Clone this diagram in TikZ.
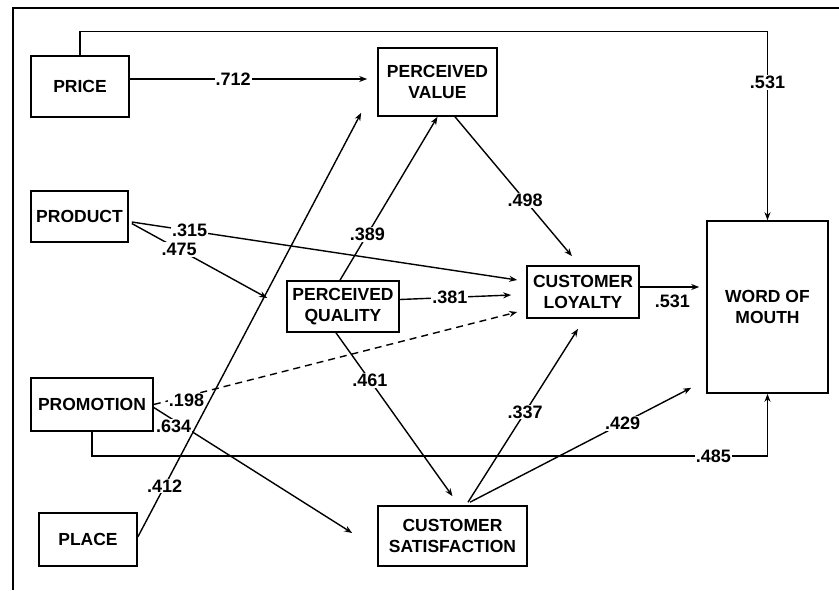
\documentclass[tikz,border=0pt]{standalone}
\usepackage{fontspec}
\setmainfont{Liberation Sans}
\usetikzlibrary{arrows.meta}
\tikzset{
  box/.style={draw, line width=1.6pt, inner sep=0pt, align=center,
    font=\fontsize{17.5}{21}\selectfont\bfseries},
  arr/.style={line width=1.4pt, -{Stealth[length=8pt,width=6pt]}},
  lab/.style={fill=white, inner sep=1pt, font=\fontsize{18}{20}\selectfont\bfseries},
  frame/.style={line width=1.6pt}
}
\begin{document}
\begin{tikzpicture}[x=1pt,y=-1pt]
\useasboundingbox (0,0) rectangle (839,590);
\coordinate (ftl) at (13,8);
\coordinate (ftr) at (839,8);
\coordinate (fbl) at (13,590);
\draw[frame] (ftr) -- (ftl) -- (fbl);

\node[box, minimum width=98, minimum height=61] (price) at (80,86.5) {PRICE};
\node[box, minimum width=119, minimum height=68] (pv) at (437.5,82) {PERCEIVED\\VALUE};
\node[box, minimum width=97, minimum height=51] (product) at (79.5,216.5) {PRODUCT};
\node[box, minimum width=112, minimum height=51] (pq) at (343,306.5) {PERCEIVED\\QUALITY};
\node[box, minimum width=112, minimum height=52] (cl) at (583,292) {CUSTOMER\\LOYALTY};
\node[box, minimum width=121, minimum height=172] (wom) at (767.5,307) {WORD OF\\MOUTH};
\node[box, minimum width=122, minimum height=53] (promo) at (92,404.5) {PROMOTION};
\node[box, minimum width=98, minimum height=53] (place) at (88,539.5) {PLACE};
\node[box, minimum width=149, minimum height=60] (cs) at (452.5,536) {CUSTOMER\\SATISFACTION};

% price -> word of mouth (top route)
\draw[arr] (price.north) -- ++(0,-24) -| (wom.north)
  node[lab, pos=0.635] {.531};
% price -> perceived value
\draw[arr] ([yshift=7.5pt]price.east) -- ([xshift=-10pt,yshift=3pt]pv.west)
  node[lab, pos=0.435] {.712};
% place -> perceived value
\draw[arr] ([yshift=2.5pt]place.east) -- ([xshift=-16pt,yshift=4pt]pv.south west)
  node[lab, pos=0.12] {.412};
% perceived quality -> perceived value
\draw[arr] ([xshift=-3pt]pq.north) -- (pv.south)
  node[lab, pos=0.28] {.389};
% perceived value -> customer loyalty
\draw[arr] ([xshift=17.5pt]pv.south) -- ([xshift=-11pt,yshift=9pt]cl.north)
  node[lab, pos=0.6] {.498};
% product -> customer loyalty
\draw[arr] ([xshift=3pt,yshift=-5.5pt]product.east) -- ([xshift=-9pt,yshift=12pt]cl.west)
  node[lab, pos=0.15] {.315};
% product -> perceived quality
\draw[arr] ([xshift=3pt,yshift=-7pt]product.east) -- ([xshift=-19pt,yshift=8.5pt]pq.west)
  node[lab, pos=0.35] {.475};
% perceived quality -> customer loyalty
\draw[arr] ([yshift=7pt]pq.east) -- ([xshift=-15pt,yshift=-3pt]cl.west)
  node[lab, pos=0.45] {.381};
% customer loyalty -> word of mouth
\draw[arr] ([yshift=5pt]cl.east) -- ([xshift=-7pt,yshift=20pt]wom.west)
  node[lab, fill=none, pos=0.55, below=6pt] {.531};
% promotion -> customer loyalty (dashed)
\draw[arr, dashed, dash pattern=on 7pt off 5pt] (promo.east) -- ([xshift=-9pt,yshift=-20pt]cl.west)
  node[lab, pos=0.09, yshift=-4pt] {.198};
% promotion -> customer satisfaction
\draw[arr] ([yshift=-3pt]promo.east) -- ([xshift=-25pt,yshift=3pt]cs.west)
  node[lab, pos=0.1, yshift=-6pt] {.634};
% promotion -> word of mouth (bottom route)
\draw[arr] (promo.south) -- ++(0,24) -| (wom.south)
  node[lab, pos=0.46] {.485};
% perceived quality -> customer satisfaction
\draw[arr] ([xshift=-7pt]pq.south) -- ([yshift=9pt]cs.north)
  node[lab, pos=0.29] {.461};
% customer satisfaction -> customer loyalty
\draw[arr] ([xshift=15.5pt,yshift=3pt]cs.north) -- ([xshift=-5pt,yshift=-10pt]cl.south)
  node[lab, pos=0.52] {.337};
% customer satisfaction -> word of mouth
\draw[arr] ([xshift=17.5pt,yshift=3pt]cs.north) -- ([xshift=-15pt,yshift=6pt]wom.south west)
  node[lab, pos=0.69] {.429};
\end{tikzpicture}
\end{document}
